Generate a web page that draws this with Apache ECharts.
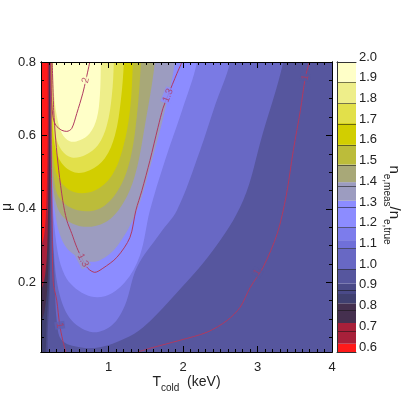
<!DOCTYPE html>
<html>
<head>
<meta charset="utf-8">
<script src="https://cdn.jsdelivr.net/npm/echarts@6/dist/echarts.min.js"></script>
<style>
html, body { margin: 0; background: #fff; }
#chart { width: 415px; height: 415px; }
</style>
</head>
<body>
<div id="chart"></div>
<script>
// axis ranges and ticks
const T_MIN = 0.09, T_MAX = 4, MU_MIN = 0.01, MU_MAX = 0.8;
const xLabelValues = [1, 2, 3, 4];
const xMajorTicks = [1, 2, 3];
const xMinorTicks = [0.1, 0.2, 0.3, 0.4, 0.5, 0.6, 0.7, 0.8, 0.9, 1.1, 1.2, 1.3, 1.4, 1.5, 1.6, 1.7, 1.8, 1.9,
    2.1, 2.2, 2.3, 2.4, 2.5, 2.6, 2.7, 2.8, 2.9, 3.1, 3.2, 3.3, 3.4, 3.5, 3.6, 3.7, 3.8, 3.9];
const yLabelValues = [0.2, 0.4, 0.6, 0.8];
const yMajorTicks = [0.2, 0.4, 0.6];
const yMinorTicks = [0.05, 0.1, 0.15, 0.25, 0.3, 0.35, 0.45, 0.5, 0.55, 0.65, 0.7, 0.75];

// filled contour regions [T, mu] (value above level)
const regionGe10 = [[0.221,0.86],[0.221,0.8],[0.234,0.423],[0.275,0.205],[0.301,0.096],[0.369,0.042],[0.611,0.023],[0.881,0.023],[1.217,0.047],[1.460,0.077],[1.823,0.151],[2.402,0.287],[2.806,0.423],[3.062,0.600],[3.345,0.8],[3.345,0.86]];
const regionGe11 = [[0.221,0.86],[0.221,0.8],[0.234,0.505],[0.261,0.287],[0.342,0.165],[0.503,0.096],[0.786,0.064],[1.042,0.083],[1.217,0.137],[1.379,0.241],[1.689,0.333],[1.917,0.396],[2.227,0.559],[2.429,0.682],[2.631,0.8],[2.631,0.86]];
const regionGe12 = [[0.221,0.86],[0.221,0.8],[0.234,0.532],[0.275,0.342],[0.409,0.219],[0.679,0.167],[0.948,0.162],[1.217,0.200],[1.419,0.273],[1.554,0.396],[1.756,0.532],[1.985,0.668],[2.187,0.8],[2.187,0.86]];
const regionGe13 = [[0.223,0.86],[0.223,0.8],[0.234,0.559],[0.275,0.396],[0.409,0.301],[0.679,0.260],[0.881,0.260],[1.123,0.301],[1.379,0.396],[1.581,0.532],[1.756,0.668],[1.890,0.8],[1.890,0.86]];
const regionGe14 = [[0.226,0.86],[0.226,0.8],[0.234,0.587],[0.261,0.450],[0.369,0.382],[0.638,0.352],[0.948,0.363],[1.177,0.410],[1.352,0.491],[1.487,0.628],[1.621,0.8],[1.621,0.86]];
const regionGe15 = [[0.229,0.86],[0.229,0.8],[0.234,0.614],[0.261,0.491],[0.342,0.428],[0.584,0.396],[0.881,0.401],[1.123,0.450],[1.285,0.532],[1.379,0.655],[1.433,0.8],[1.433,0.86]];
const regionGe16 = [[0.231,0.86],[0.231,0.8],[0.234,0.641],[0.261,0.532],[0.342,0.478],[0.544,0.445],[0.813,0.450],[1.042,0.491],[1.190,0.565],[1.285,0.668],[1.325,0.8],[1.325,0.86]];
const regionGe17 = [[0.234,0.86],[0.234,0.8],[0.241,0.668],[0.275,0.573],[0.369,0.524],[0.544,0.499],[0.746,0.505],[0.948,0.538],[1.083,0.600],[1.163,0.696],[1.204,0.8],[1.204,0.86]];
const regionGe18 = [[0.241,0.86],[0.241,0.8],[0.248,0.696],[0.288,0.600],[0.369,0.559],[0.503,0.540],[0.679,0.546],[0.854,0.573],[0.975,0.628],[1.042,0.709],[1.069,0.8],[1.069,0.86]];
const regionGe19 = [[0.248,0.86],[0.248,0.8],[0.261,0.723],[0.301,0.655],[0.369,0.606],[0.477,0.584],[0.611,0.587],[0.746,0.606],[0.840,0.647],[0.881,0.709],[0.894,0.8],[0.894,0.86]];
// regions below level, along the left edge
const regionLt093 = [[0.0,0.86],[0.221,0.86],[0.221,0.8],[0.221,0.423],[0.207,0.178],[0.180,0.069],[0.150,-0.03],[0.0,-0.03]];
const regionLt088 = [[0.0,0.86],[0.214,0.86],[0.214,0.8],[0.214,0.423],[0.200,0.205],[0.167,0.096],[0.122,-0.03],[0.0,-0.03]];
const regionLt083 = [[0.0,0.86],[0.207,0.86],[0.207,0.8],[0.207,0.423],[0.180,0.205],[0.140,0.124],[0.09,0.096],[0.0,0.09]];
const regionLt074 = [[0.0,0.86],[0.200,0.86],[0.200,0.8],[0.194,0.559],[0.180,0.342],[0.153,0.232],[0.09,0.178],[0.0,0.17]];
const regionLt064 = [[0.0,0.86],[0.180,0.86],[0.180,0.8],[0.180,0.600],[0.167,0.45],[0.140,0.34],[0.09,0.30],[0.0,0.29]];

const regions = [regionGe10, regionGe11, regionGe12, regionGe13, regionGe14, regionGe15, regionGe16, regionGe17, regionGe18, regionGe19,
    regionLt093, regionLt088, regionLt083, regionLt074, regionLt064];
const regionColors = ['#6868C4', '#7A7AE4', '#8C8CFF', '#9C9CC0', '#A8A878', '#BCBC3A', '#D2CE00', '#E2E04A', '#EEEE8A', '#FFFFC8',
    '#4A4A88', '#404070', '#45304F', '#A8203A', '#FF1A1A'];
const bgColor = '#56569E';

// contour lines
const contour2 = [[0.221,0.8],[0.227,0.723],[0.248,0.655],[0.288,0.628],[0.369,0.614],[0.436,0.611],[0.503,0.619],[0.571,0.660],[0.652,0.715],[0.692,0.750],[0.746,0.8]];
const contour13 = [[0.241,0.8],[0.261,0.668],[0.288,0.587],[0.328,0.505],[0.382,0.423],[0.436,0.369],[0.503,0.333],[0.571,0.295],[0.652,0.260],[0.719,0.238],[0.813,0.227],[0.921,0.238],[1.110,0.268],[1.285,0.322],[1.365,0.396],[1.446,0.450],[1.554,0.532],[1.662,0.622],[1.729,0.674],[1.796,0.709],[1.917,0.769],[1.985,0.8]];
const contour1Right = [[3.696,0.8],[3.642,0.758],[3.575,0.668],[3.480,0.559],[3.386,0.437],[3.265,0.333],[3.075,0.241],[2.901,0.186],[2.766,0.132],[2.591,0.096],[2.322,0.064],[1.958,0.042],[1.554,0.020],[1.392,0.01]];
const contour1Left = [[0.221,0.8],[0.228,0.56],[0.240,0.35],[0.254,0.2],[0.301,0.151],[0.342,0.083],[0.382,0.042],[0.423,0.01]];
const contourLabelPos = [[0.692,0.750],[1.796,0.709],[0.652,0.260],[3.642,0.758],[2.995,0.227],[0.342,0.083]];
const contourLabelText = ['2', '1.3', '1.3', '1', '1', '1'];
const contourLabelAngle = [77, 68, -62, 79, 57, -81];
const contourLabelBg = ['#FFFFC8', '#8C8CFF', '#9C9CC0', '#56569E', '#56569E', '#5E5EB0'];
const contourColor = '#B03A60';

// colour bar bands
const cbEdges = [0.6, 0.64, 0.74, 0.835, 0.88, 0.93, 1.0, 1.1, 1.14, 1.2, 1.33, 1.42, 1.505, 1.6, 1.705, 1.8, 1.905, 2.0];
const cbColors = ['#FF1A1A', '#A8203A', '#45304F', '#404070', '#4A4A88', '#56569E', '#6868C4', '#7070D8', '#7C7CEC', '#8C8CFF',
    '#9C9CC0', '#A8A878', '#BCBC3A', '#D2CE00', '#E2E04A', '#EEEE8A', '#FFFFC8'];

const chart = echarts.init(document.getElementById('chart'));

function fillSeries(points, color) {
    return {
        type: 'custom',
        xAxisIndex: 0,
        yAxisIndex: 0,
        silent: true,
        clip: true,
        z: 2,
        data: points,
        renderItem: (params, api) => {
            if (params.dataIndex !== 0) return null;
            return {
                type: 'polygon',
                shape: {points: points.map(p => api.coord(p)), smooth: 0.35},
                style: {fill: color}
            };
        }
    };
}

function contourSeries(points) {
    return {
        type: 'line',
        xAxisIndex: 0,
        yAxisIndex: 0,
        data: points,
        smooth: 0.3,
        symbol: 'none',
        silent: true,
        z: 3,
        lineStyle: {color: contourColor, width: 1}
    };
}

const black = {color: '#000', width: 1};
function plotAxis(position, ticks, len, labels, extra) {
    const isX = position === 'bottom' || position === 'top';
    return Object.assign({
        gridIndex: 0,
        type: 'value',
        min: isX ? T_MIN : MU_MIN,
        max: isX ? T_MAX : MU_MAX,
        position,
        z: 5,
        splitLine: {show: false},
        axisLine: {show: true, lineStyle: black},
        axisTick: {show: true, inside: true, length: len, customValues: ticks, lineStyle: black},
        axisLabel: labels ? {
            show: true, customValues: labels, showMaxLabel: true, fontSize: 13, color: '#222',
            margin: isX ? 9 : 5,
            formatter: v => isX ? String(v) : v.toFixed(1)
        } : {show: false}
    }, extra || {});
}

const option = {
    animation: false,
    textStyle: {fontFamily: 'Liberation Sans'},
    grid: [
        {left: 41, top: 62, width: 291, height: 290, show: true, backgroundColor: bgColor, borderWidth: 0,
            containLabel: false, outerBoundsMode: 'none'},
        {left: 337, top: 62, width: 19, height: 290, containLabel: false, outerBoundsMode: 'none'}
    ],
    xAxis: [
        plotAxis('bottom', xMajorTicks, 6, xLabelValues, {
            name: '{b|T}{s|cold}{b|  (keV)}',
            nameLocation: 'middle',
            nameGap: 23,
            nameMoveOverlap: false,
            nameTextStyle: {
                color: '#222',
                rich: {
                    b: {fontSize: 14, color: '#222', padding: [0, 0, 4, 0], verticalAlign: 'bottom'},
                    s: {fontSize: 10, color: '#222', verticalAlign: 'bottom'}
                }
            }
        }),
        plotAxis('bottom', xMinorTicks, 3, null),
        plotAxis('top', xMajorTicks, 6, null),
        plotAxis('top', xMinorTicks, 3, null),
        {gridIndex: 1, type: 'value', min: 0, max: 1, position: 'bottom', z: 5,
            axisLine: {show: true, lineStyle: {color: '#333'}}, axisTick: {show: false}, axisLabel: {show: false}, splitLine: {show: false}},
        {gridIndex: 1, type: 'value', min: 0, max: 1, position: 'top', z: 5,
            axisLine: {show: true, lineStyle: {color: '#333'}}, axisTick: {show: false}, axisLabel: {show: false}, splitLine: {show: false}}
    ],
    yAxis: [
        plotAxis('left', yMajorTicks, 6, yLabelValues, {
            name: 'μ',
            nameLocation: 'middle',
            nameGap: 27,
            nameRotate: 90,
            nameMoveOverlap: false,
            nameTextStyle: {fontSize: 14, color: '#222'}
        }),
        plotAxis('left', yMinorTicks, 3, null),
        plotAxis('right', yMajorTicks, 6, null),
        plotAxis('right', yMinorTicks, 3, null),
        {gridIndex: 1, type: 'value', min: 0.6, max: 2.0, interval: 0.1, position: 'right', z: 5,
            axisLine: {show: true, lineStyle: {color: '#333'}},
            axisTick: {show: false},
            splitLine: {show: true, lineStyle: {color: 'rgba(20,20,20,0.55)', width: 1}},
            axisLabel: {show: true, margin: 3, fontSize: 13, color: '#222', verticalAlign: 'bottom', lineHeight: 10,
                formatter: v => v.toFixed(1)}},
        {gridIndex: 1, type: 'value', min: 0.6, max: 2.0, position: 'left', z: 5,
            axisLine: {show: true, lineStyle: {color: '#333'}}, axisTick: {show: false}, axisLabel: {show: false}, splitLine: {show: false}}
    ],
    graphic: [{
        type: 'text',
        x: 392,
        y: 205,
        rotation: -Math.PI / 2,
        style: {
            text: '{n|n}{s|e,meas}{n|/n}{s|e,true}',
            align: 'center',
            verticalAlign: 'middle',
            rich: {
                n: {fontSize: 15, fill: '#222', padding: [0, 0, 5, 0], verticalAlign: 'bottom', fontFamily: 'Liberation Sans'},
                s: {fontSize: 10, fill: '#222', verticalAlign: 'bottom', fontFamily: 'Liberation Sans'}
            }
        }
    }],
    series: [
        ...regions.map((r, i) => fillSeries(r, regionColors[i])),
        contourSeries(contour2),
        contourSeries(contour13),
        contourSeries(contour1Right),
        contourSeries(contour1Left),
        {
            type: 'scatter',
            xAxisIndex: 0,
            yAxisIndex: 0,
            symbolSize: 0,
            silent: true,
            z: 4,
            data: contourLabelPos.map((p, i) => ({
                value: p,
                label: {rotate: contourLabelAngle[i], backgroundColor: contourLabelBg[i], formatter: contourLabelText[i]}
            })),
            label: {show: true, position: 'inside', color: contourColor, fontSize: 10, padding: [0, 1]}
        },
        {
            type: 'custom',
            xAxisIndex: 4,
            yAxisIndex: 4,
            silent: true,
            z: 2,
            data: cbColors.map((c, i) => [cbEdges[i], cbEdges[i + 1]]),
            renderItem: (params, api) => {
                const p0 = api.coord([0, api.value(0)]);
                const p1 = api.coord([1, api.value(1)]);
                return {
                    type: 'rect',
                    shape: {x: p0[0], y: p1[1], width: p1[0] - p0[0], height: p0[1] - p1[1]},
                    style: {fill: cbColors[params.dataIndex]}
                };
            }
        }
    ]
};

chart.setOption(option);
</script>
</body>
</html>
